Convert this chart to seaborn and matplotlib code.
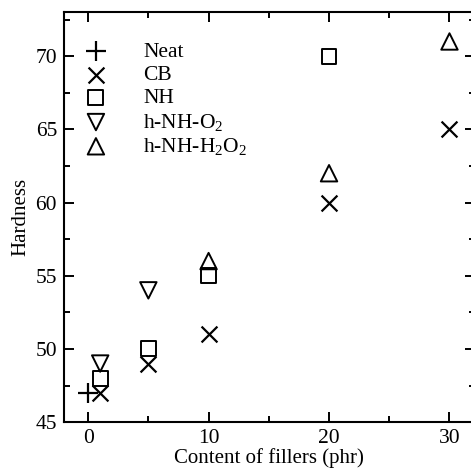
import matplotlib
matplotlib.use("Agg")
import matplotlib.pyplot as plt
import seaborn as sns
from matplotlib.ticker import MultipleLocator

# data
neat_x = [0]
neat_y = [47]
cb_x = [1, 5, 10, 20, 30]
cb_y = [47, 49, 51, 60, 65]
nh_x = [1, 5, 10, 20]
nh_y = [48, 50, 55, 70]
o2_x = [1, 5]
o2_y = [49, 54]
h2o2_x = [10, 20, 30]
h2o2_y = [56, 62, 71]

sns.set_style("ticks")
plt.rcParams['font.family'] = ['Liberation Serif', 'DejaVu Serif']
plt.rcParams['mathtext.fontset'] = 'custom'
plt.rcParams['mathtext.rm'] = 'Liberation Serif'
plt.rcParams['mathtext.default'] = 'regular'
plt.rcParams['text.color'] = 'k'
plt.rcParams['axes.labelcolor'] = 'k'

fig = plt.figure(figsize=(4.71, 4.69), dpi=100)
# right spine sits just past the image edge, as in the reference
ax = fig.add_axes([0.136, 0.100, 0.872, 0.874])

sns.scatterplot(x=neat_x, y=neat_y, marker='+', s=220, color='k', linewidth=1.6, label='Neat', ax=ax)
sns.scatterplot(x=cb_x, y=cb_y, marker='x', s=130, color='k', linewidth=1.6, label='CB', ax=ax)
sns.scatterplot(x=nh_x, y=nh_y, marker='s', s=115, facecolors='none', edgecolors='k', linewidth=1.4, label='NH', ax=ax)
sns.scatterplot(x=o2_x, y=o2_y, marker='v', s=140, facecolors='none', edgecolors='k', linewidth=1.4, label='h-NH-O$_2$', ax=ax)
sns.scatterplot(x=h2o2_x, y=h2o2_y, marker='^', s=140, facecolors='none', edgecolors='k', linewidth=1.4, label='h-NH-H$_2$O$_2$', ax=ax)

ax.set_xlim(-2, 32.1)
ax.set_ylim(45, 73)
ax.xaxis.set_major_locator(MultipleLocator(10))
ax.xaxis.set_minor_locator(MultipleLocator(5))
ax.yaxis.set_major_locator(MultipleLocator(5))
ax.yaxis.set_minor_locator(MultipleLocator(2.5))
ax.tick_params(which='both', direction='in', top=True, right=True, width=1.4,
               labelsize=15.5, colors='k', pad=5)
ax.tick_params(which='major', length=7)
ax.tick_params(which='minor', length=4)
for sp in ax.spines.values():
    sp.set_linewidth(1.5)
    sp.set_color('k')

ax.set_xlabel('Content of fillers (phr)', fontsize=15, labelpad=0)
ax.set_ylabel('Hardness', fontsize=15, labelpad=4)

ax.legend(loc='upper left', bbox_to_anchor=(-0.022, 0.975), frameon=False, fontsize=15.5,
          handlelength=2.0, handletextpad=1.2, labelspacing=0.15, borderaxespad=0.5)

fig.savefig('out.png', dpi=100)
